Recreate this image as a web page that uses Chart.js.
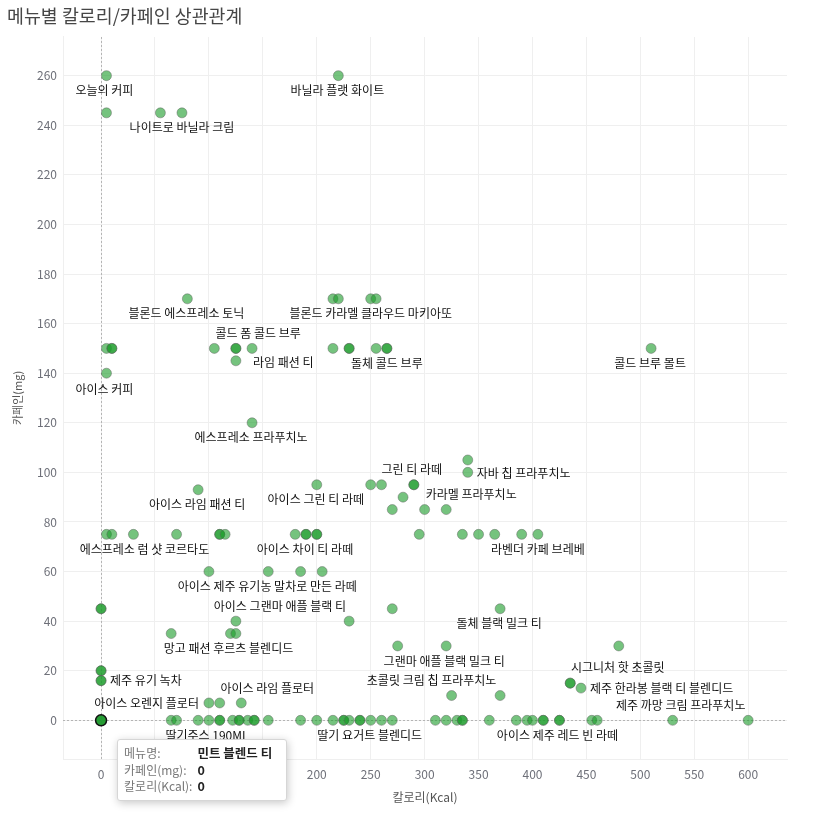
<!DOCTYPE html>
<html>
<head>
<meta charset="utf-8">
<title>메뉴별 칼로리/카페인 상관관계</title>
<script src="https://cdn.jsdelivr.net/npm/chart.js@4.4.0/dist/chart.umd.min.js"></script>
<style>
  html, body { margin: 0; padding: 0; background: #fff; }
  #wrap { position: relative; width: 828px; height: 815px; }
  #tip {
    position: absolute; display: none; pointer-events: none;
    background: #fff; border: 1px solid #d6d6d6; border-radius: 3px;
    box-shadow: 1px 2px 8px rgba(0,0,0,0.22);
    padding: 5px 14px 5px 6px;
    font-family: "Noto Sans CJK KR", sans-serif; font-size: 12px; line-height: 16.5px;
  }
  #tip table { border-collapse: collapse; }
  #tip td { padding: 0; white-space: nowrap; }
  #tip td.k { color: #777; padding-right: 5px; }
  #tip td.v { color: #222; font-weight: 700; font-size: 12.5px; }
</style>
</head>
<body>
<div id="wrap">
  <canvas id="chart" width="828" height="815"></canvas>
  <div id="tip"></div>
</div>
<script>
// values
const menuNames = [
  '오늘의 커피', '바닐라 플랫 화이트', '', '', '나이트로 바닐라 크림',
  '블론드 에스프레소 토닉', '', '', '블론드 카라멜 클라우드 마키아또', '',
  '', '', '', '', '', '', '콜드 폼 콜드 브루', '', '', '', '', '', '돌체 콜드 브루', '콜드 브루 몰트',
  '라임 패션 티', '아이스 커피', '에스프레소 프라푸치노', '', '자바 칩 프라푸치노',
  '아이스 그린 티 라떼', '', '', '', '그린 티 라떼', '아이스 라임 패션 티', '',
  '', '', '카라멜 프라푸치노',
  '', '', '에스프레소 럼 샷 코르타도', '', '', '', '', '', '', '아이스 차이 티 라떼', '', '', '', '', '', '', '', '라벤더 카페 브레베',
  '', '아이스 제주 유기농 말차로 만든 라떼', '', '',
  '', '', '', '돌체 블랙 밀크 티',
  '아이스 그랜마 애플 블랙 티', '',
  '', '망고 패션 후르츠 블렌디드', '',
  '', '그랜마 애플 블랙 밀크 티', '시그니처 핫 초콜릿',
  '', '', '', '제주 유기 녹차',
  '', '', '제주 한라봉 블랙 티 블렌디드',
  '초콜릿 크림 칩 프라푸치노', '',
  '아이스 오렌지 플로터', '', '아이스 라임 플로터',
  '', '민트 블렌드 티', '', '', '', '딸기주스 190ML', '', '', '', '', '', '', '', '', '',
  '', '', '', '', '', '', '', '', '딸기 요거트 블렌디드', '', '',
  '', '', '', '', '', '', '', '', '', '', '', '아이스 제주 레드 빈 라떼', '', '', '', '제주 까망 크림 프라푸치노', ''
];
const calories = [
  5, 220, 5, 55, 75,
  80, 215, 220, 250, 255,
  5, 10, 10, 105, 125, 125, 140, 215, 230, 230, 255, 265, 265, 510,
  125, 5, 140, 340, 340,
  200, 250, 260, 290, 290, 90, 280,
  270, 300, 320,
  5, 10, 30, 70, 110, 110, 115, 180, 190, 190, 200, 200, 295, 335, 350, 365, 390, 405,
  100, 155, 185, 205,
  0, 0, 270, 370,
  125, 230,
  65, 120, 125,
  275, 320, 480,
  0, 0, 0, 0,
  435, 435, 445,
  325, 370,
  100, 110, 130,
  0, 0, 65, 70, 90, 100, 110, 110, 122, 128, 128, 136, 142, 142, 155,
  185, 200, 215, 225, 225, 230, 240, 240, 250, 260, 270,
  310, 320, 330, 335, 335, 360, 385, 395, 400, 410, 410, 425, 425, 455, 460, 530, 600
];
const caffeine = [
  260, 260, 245, 245, 245,
  170, 170, 170, 170, 170,
  150, 150, 150, 150, 150, 150, 150, 150, 150, 150, 150, 150, 150, 150,
  145, 140, 120, 105, 100,
  95, 95, 95, 95, 95, 93, 90,
  85, 85, 85,
  75, 75, 75, 75, 75, 75, 75, 75, 75, 75, 75, 75, 75, 75, 75, 75, 75, 75,
  60, 60, 60, 60,
  45, 45, 45, 45,
  40, 40,
  35, 35, 35,
  30, 30, 30,
  20, 20, 16, 16,
  15, 15, 13,
  10, 10,
  7, 7, 7,
  0, 0, 0, 0, 0, 0, 0, 0, 0, 0, 0, 0, 0, 0, 0,
  0, 0, 0, 0, 0, 0, 0, 0, 0, 0, 0,
  0, 0, 0, 0, 0, 0, 0, 0, 0, 0, 0, 0, 0, 0, 0, 0, 0
];
const xTicks = [0, 50, 100, 150, 200, 250, 300, 350, 400, 450, 500, 550, 600];
const yTicks = [0, 20, 40, 60, 80, 100, 120, 140, 160, 180, 200, 220, 240, 260];
const hoveredMenu = '민트 블렌드 티';

// where each visible label sits relative to its point: [align, dx, dy]
const labelLayout = {
  '오늘의 커피': ['center', -2, 15],
  '바닐라 플랫 화이트': ['center', -1, 15],
  '나이트로 바닐라 크림': ['center', 0, 15],
  '블론드 에스프레소 토닉': ['center', -1, 15],
  '블론드 카라멜 클라우드 마키아또': ['center', 0, 15],
  '콜드 폼 콜드 브루': ['center', 6, -15],
  '라임 패션 티': ['left', 17, 2],
  '돌체 콜드 브루': ['center', 0, 15],
  '콜드 브루 몰트': ['center', -1, 15],
  '아이스 커피': ['center', -2, 16],
  '에스프레소 프라푸치노': ['center', -1, 15],
  '그린 티 라떼': ['center', -2, -15],
  '자바 칩 프라푸치노': ['left', 9, 1],
  '아이스 라임 패션 티': ['center', -1, 15],
  '아이스 그린 티 라떼': ['center', -1, 15],
  '카라멜 프라푸치노': ['center', 25, -15],
  '에스프레소 럼 샷 코르타도': ['center', 11, 15],
  '아이스 차이 티 라떼': ['center', -1, 15],
  '라벤더 카페 브레베': ['center', 0, 15],
  '아이스 제주 유기농 말차로 만든 라떼': ['center', -1, 15],
  '아이스 그랜마 애플 블랙 티': ['center', 44, -15],
  '돌체 블랙 밀크 티': ['center', -1, 15],
  '망고 패션 후르츠 블렌디드': ['center', -2, 15],
  '그랜마 애플 블랙 밀크 티': ['center', -2, 16],
  '시그니처 핫 초콜릿': ['center', -1, 22],
  '제주 유기 녹차': ['left', 9, 0],
  '아이스 라임 플로터': ['center', 26, -15],
  '초콜릿 크림 칩 프라푸치노': ['center', -20, -15],
  '제주 한라봉 블랙 티 블렌디드': ['left', 9, 0],
  '제주 까망 크림 프라푸치노': ['center', 8, -15],
  '아이스 오렌지 플로터': ['right', -10, 0],
  '딸기주스 190ML': ['center', -2, 15],
  '딸기 요거트 블렌디드': ['center', -1, 15],
  '아이스 제주 레드 빈 라떼': ['center', -2, 15]
};

const FONT = '"Noto Sans CJK KR", sans-serif';

const points = calories.map((c, i) => ({ x: c, y: caffeine[i] }));

// dotted zero lines (x=0 and y=0)
const zeroLines = {
  id: 'zeroLines',
  beforeDatasetsDraw(chart) {
    const { ctx, chartArea: a, scales } = chart;
    const x0 = Math.round(scales.x.getPixelForValue(0)) + 0.5;
    const y0 = Math.round(scales.y.getPixelForValue(0)) + 0.5;
    ctx.save();
    ctx.strokeStyle = '#b4b4b4';
    ctx.lineWidth = 1;
    ctx.setLineDash([2, 2]);
    ctx.beginPath();
    ctx.moveTo(x0, a.top); ctx.lineTo(x0, a.bottom);
    ctx.moveTo(a.left, y0); ctx.lineTo(a.right, y0);
    ctx.stroke();
    ctx.restore();
  }
};

// menu name labels next to points
const pointLabels = {
  id: 'pointLabels',
  afterDatasetsDraw(chart) {
    const ctx = chart.ctx;
    const meta = chart.getDatasetMeta(0);
    ctx.save();
    ctx.font = '12px ' + FONT;
    ctx.fillStyle = '#111';
    ctx.textBaseline = 'middle';
    meta.data.forEach((pt, i) => {
      const lay = labelLayout[menuNames[i]];
      if (!lay) return;
      ctx.textAlign = lay[0];
      ctx.fillText(menuNames[i], pt.x + lay[1], pt.y + lay[2]);
    });
    ctx.restore();
  }
};

function externalTip(context) {
  const tip = document.getElementById('tip');
  const t = context.tooltip;
  if (!t || t.opacity === 0 || !t.dataPoints || !t.dataPoints.length) {
    tip.style.display = 'none';
    return;
  }
  const i = t.dataPoints[0].dataIndex;
  tip.innerHTML =
    '<table>' +
    '<tr><td class="k">메뉴명:</td><td class="v">' + menuNames[i] + '</td></tr>' +
    '<tr><td class="k">카페인(mg):</td><td class="v">' + caffeine[i] + '</td></tr>' +
    '<tr><td class="k">칼로리(Kcal):</td><td class="v">' + calories[i] + '</td></tr>' +
    '</table>';
  tip.style.display = 'block';
  tip.style.left = (t.caretX + 16) + 'px';
  tip.style.top = (t.caretY + 19) + 'px';
}

const chart = new Chart(document.getElementById('chart').getContext('2d'), {
  type: 'scatter',
  data: {
    datasets: [{
      label: '메뉴',
      data: points,
      pointRadius: 5,
      pointHoverRadius: 5.5,
      backgroundColor: 'rgba(25,155,40,0.6)',
      borderColor: 'rgba(95,95,95,0.45)',
      borderWidth: 1,
      hoverBackgroundColor: 'rgba(25,150,40,0.85)',
      hoverBorderColor: '#111',
      hoverBorderWidth: 1.5
    }]
  },
  options: {
    responsive: false,
    animation: false,
    events: [],
    devicePixelRatio: 1,
    layout: { padding: { left: 7, right: 41, top: 0, bottom: 0 } },
    plugins: {
      legend: { display: false },
      title: {
        display: true,
        text: '메뉴별 칼로리/카페인 상관관계',
        align: 'start',
        color: '#464646',
        font: { family: FONT, size: 18.4, weight: 'normal' },
        padding: { top: 5, bottom: 9.9 }
      },
      tooltip: { enabled: false, external: externalTip }
    },
    scales: {
      x: {
        type: 'linear',
        min: -35.3,
        max: 636,
        afterBuildTicks: s => { s.ticks = xTicks.map(v => ({ value: v })); },
        afterFit: s => { s.height = 56; },
        grid: { color: '#efefef', drawTicks: false },
        border: { display: true, color: '#efefef' },
        ticks: { color: '#6e7079', font: { family: FONT, size: 12 }, padding: 8, maxRotation: 0 },
        title: {
          display: true, text: '칼로리(Kcal)', color: '#555',
          font: { family: FONT, size: 12 }, padding: { top: 0, bottom: 10.8 }
        }
      },
      y: {
        type: 'linear',
        min: -15.6,
        max: 275.6,
        afterBuildTicks: s => { s.ticks = yTicks.map(v => ({ value: v })); },
        afterFit: s => { s.width = 56; },
        grid: { color: '#efefef', drawTicks: false },
        border: { display: true, color: '#efefef' },
        ticks: { color: '#6e7079', font: { family: FONT, size: 12 }, padding: 6 },
        title: {
          display: true, text: '카페인(mg)', color: '#555',
          font: { family: FONT, size: 11 }, padding: { top: 4.5, bottom: 0 }
        }
      }
    }
  },
  plugins: [zeroLines, pointLabels]
});

// show the hovered state seen in the picture
const hi = menuNames.indexOf(hoveredMenu);
chart.setActiveElements([{ datasetIndex: 0, index: hi }]);
chart.tooltip.setActiveElements([{ datasetIndex: 0, index: hi }], { x: 0, y: 0 });
chart.update();
</script>
</body>
</html>
